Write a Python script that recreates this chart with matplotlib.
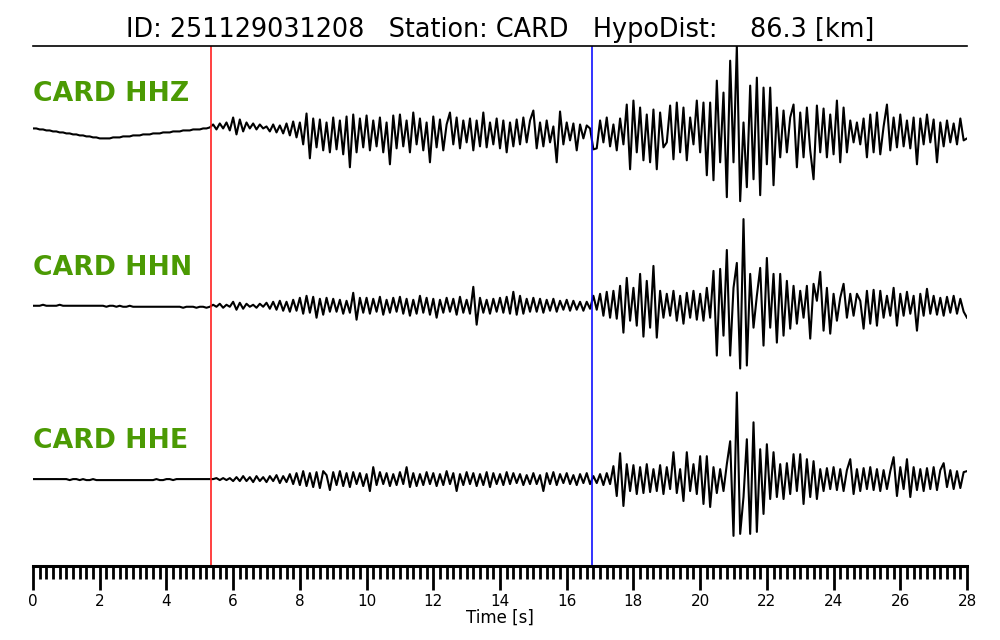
import numpy as np
import matplotlib.pyplot as plt
from matplotlib.ticker import MultipleLocator

# event / station info
event_id = '251129031208'
station = 'CARD'
hypo_dist = 86.3
channels = ['HHZ', 'HHN', 'HHE']
dt = 0.1          # sample interval [s]
p_pick = 5.35     # P arrival [s]
s_pick = 16.77    # S arrival [s]

# amplitudes (arbitrary units, normalised when plotted)
hhz = [
    4, 4, 3, 3, 2, 2, 1, 1, 0, 0,
    -1, -1, -2, -2, -3, -3, -4, -4, -5, -5,
    -6, -6, -6, -6, -5, -5, -5, -4, -4, -4,
    -3, -3, -3, -2, -2, -2, -1, -1, -1, 0,
    0, 0, 1, 1, 1, 2, 2, 2, 3, 3,
    3, 4, 4, 5, 8, 3, 9, 4, 10, 2,
    15, -2, 13, 1, 10, 4, 9, 3, 8, 4,
    6, 1, 8, 0, 7, -1, 9, -3, 11, -5,
    10, -12, 19, -26, 14, -15, 13, -18, 10, -20,
    15, -17, 12, -22, 16, -35, 18, -20, 14, -15,
    17, -18, 12, -14, 15, -20, 10, -32, 17, -16,
    18, -14, 12, -20, 20, -12, 14, -18, 10, -30,
    16, -15, 13, -18, 8, 20, -12, 15, -16, 12,
    -10, 14, -18, 12, -14, 20, -15, 10, -12, 14,
    -16, 12, -20, 10, -14, 13, -12, 15, -10, 12,
    22, -16, 10, -14, 12, -10, 6, -30, 21, -12,
    10, -8, 9, -18, 8, -6, 7, 4, -17, -16,
    12, -10, 15, -14, 8, -18, 14, -12, 28, -37,
    32, -20, 25, -28, 18, -30, 23, -37, 20, -15,
    -10, 27, -27, 30, -20, 25, -28, 15, -12, 32,
    -20, 30, -43, 30, -48, 52, -30, 40, -65, 72,
    -30, 87, -69, 10, -55, 47, -47, 55, -63, 45,
    -32, 45, -53, 25, -25, 22, -20, 15, 28, -35,
    20, -25, 25, -18, -47, 27, -20, 24, -25, 18,
    -22, 32, -30, 25, -20, 12, -10, 10, -12, 14,
    -25, 18, -20, 20, -22, 6, 28, -18, 15, -15,
    18, -14, 12, -16, 15, -32, 14, -12, 18, -10,
    13, -30, 10, -14, 12, -10, 9, -12, 14, -8,
    -6,
]

hhn = [
    0, 0, 0, 1, 0, 0, 0, 0, 1, 0,
    0, 0, 0, 0, 0, 0, 0, 0, 0, 0,
    0, 0, -1, 0, 0, -1, 0, -1, -1, 0,
    -1, -1, -1, -1, -1, -1, -1, -1, -1, -1,
    -1, -1, -1, -1, -1, -2, -1, -1, -1, -2,
    -1, -1, -2, -1, 1, -1, 2, -2, 1, -1,
    4, -4, 3, -3, 2, -1, 1, -2, 2, -1,
    3, -3, 4, -4, 5, -5, 4, -6, 6, -5,
    8, -8, 10, -7, 9, -12, 7, -9, 8, -6,
    7, -6, 6, -8, 5, -7, 13, -14, 8, -7,
    8, -8, 7, -6, 9, -9, 6, -7, 8, -6,
    9, -8, 7, -10, 6, -8, 10, -7, 8, -9,
    7, -12, 6, -7, 8, -6, 7, -9, 9, -7,
    6, -8, 19, -19, 8, -7, 6, -8, 7, -6,
    8, -7, 9, -8, 14, -9, 10, -8, 7, -6,
    8, -6, 7, -7, 6, -5, 7, -6, 5, -4,
    6, -5, 5, -4, 4, -5, 4, -3, 10, -4,
    12, -10, 14, -12, 15, -13, 20, -27, 28, -15,
    18, -20, 32, -31, 25, -22, 40, -32, 15, -12,
    12, -10, 15, -15, 10, -18, 13, -12, 15, -14,
    12, -15, 18, -12, 35, -50, 37, -30, 56, -50,
    18, 43, -63, 87, -60, 32, -22, 10, 38, -40,
    48, -22, 32, -37, 32, -30, 25, -23, 20, -18,
    15, -12, 20, -33, 22, 5, 34, -25, 18, -28,
    12, -15, 8, 22, -12, 12, -10, 12, 5, -23,
    15, -18, 16, -20, 15, -12, 10, -10, 18, -20,
    12, -10, 14, -8, 10, -25, 12, -10, 17, -8,
    10, -9, 8, -10, 9, -7, 10, -8, 7, -6,
    -12,
]

hhe = [
    0, 0, 0, 0, 0, 0, 0, 0, 0, 0,
    0, -1, 0, 0, -1, 0, -1, -1, 0, -1,
    -1, -1, -1, -1, -1, -1, -1, -1, -1, -1,
    -1, -1, -1, -1, -1, -1, -1, 0, -1, -1,
    0, 0, -1, 0, 0, 0, 0, 0, 0, 0,
    0, 0, 0, 0, 0, 1, -1, 1, -1, 1,
    -2, 2, -2, 3, -2, 2, -3, 3, -2, 2,
    -3, 3, -2, 4, -4, 3, -3, 5, -5, 6,
    -6, 8, -7, 6, -8, 7, -9, 8, 4, -11,
    7, -6, 8, -7, 6, -8, 7, -5, 6, -7,
    5, -12, 12, -6, 7, -5, 6, -7, 5, -6,
    7, -5, 12, -8, 6, -7, 5, -6, 7, -5,
    6, -7, 5, -6, 8, -5, 6, -12, 5, -6,
    7, -5, 6, -7, 5, -6, 7, -8, 6, -5,
    5, -6, 7, -5, 6, -4, 5, -6, 4, -5,
    6, -5, 4, -12, 6, -5, 7, -6, 5, -4,
    6, -5, 4, -6, 5, -4, 6, -5, 3, -4,
    5, -6, 6, -5, 13, -17, 26, -27, 15, -12,
    14, -15, 12, -14, 15, -13, 10, -12, 14, -15,
    12, -10, 27, -14, 10, -22, 27, -12, 15, -15,
    23, -25, 23, -28, 12, -14, 10, -12, 15, 38,
    -57, 87, -55, -18, 40, -55, 57, -53, 30, -35,
    35, -20, 27, -18, 15, -20, 16, -15, 25, -12,
    25, -25, 20, -18, 18, -20, 10, -12, 11, -10,
    12, -11, 10, -12, 9, 20, -15, 10, -12, 11,
    -10, 12, -11, 10, -12, 9, -10, 8, 22, -17,
    12, -10, 20, -18, 12, -11, 10, -12, 11, -10,
    12, -11, 9, 16, -8, 9, -10, 8, -9, 7,
    8,
]

fig = plt.figure(figsize=(10, 6.4), dpi=100)
ax = fig.add_axes([0.033, 0.116, 0.934, 0.8125])

traces = [hhz, hhn, hhe]
offsets = [4, 2, 0]
for ch, tr, off in zip(channels, traces, offsets):
    tr = np.array(tr, dtype=float)
    t = np.arange(len(tr)) * dt
    ax.plot(t, off + tr / np.abs(tr).max(), color='black', lw=1.5)
    ax.text(0, off + 0.36, f'{station} {ch}', color='#4b9a03', fontsize=19.2,
            fontweight='bold', ha='left', va='baseline')

# phase picks
ax.axvline(p_pick, color='#ff2020', lw=1.2)
ax.axvline(s_pick, color='#1010ff', lw=1.2)

ax.set_xlim(0, 28)
ax.set_ylim(-1, 5)
ax.set_yticks([])
ax.spines['left'].set_visible(False)
ax.spines['right'].set_visible(False)
ax.spines['top'].set_linewidth(1.2)
ax.spines['bottom'].set_linewidth(2.2)
ax.xaxis.set_major_locator(MultipleLocator(2))
ax.xaxis.set_minor_locator(MultipleLocator(0.2))
ax.tick_params(axis='x', which='major', length=17, width=2, labelsize=11, pad=3)
ax.tick_params(axis='x', which='minor', length=9, width=2)
ax.set_xlabel('Time [s]', fontsize=12, labelpad=0)

fig.text(0.5, 1 - 37 / 640,
         f'ID: {event_id}   Station: {station}   HypoDist:    {hypo_dist} [km]',
         ha='center', va='baseline', fontsize=18.4)

fig.savefig('out.png', dpi=100)
